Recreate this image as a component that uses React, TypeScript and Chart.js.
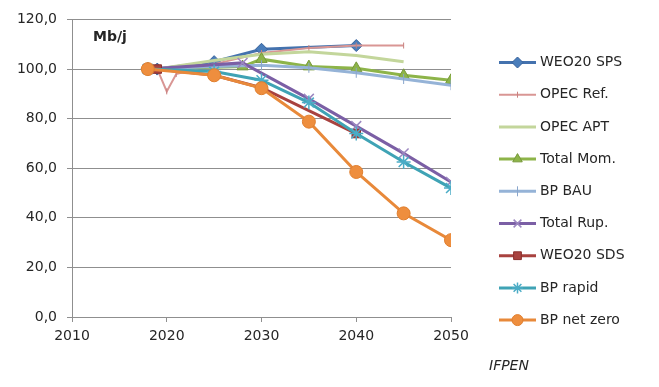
import React, { useEffect, useRef } from 'react';
import { Chart, registerables } from 'chart.js';
import { drawPoint } from 'chart.js/helpers';

Chart.register(...registerables);

const xTickValues = [2010, 2020, 2030, 2040, 2050];
const yTickValues = [0, 20, 40, 60, 80, 100, 120];

const seriesNames = [
  'WEO20 SPS', 'OPEC Ref.', 'OPEC APT', 'Total Mom.', 'BP BAU',
  'Total Rup.', 'WEO20 SDS', 'BP rapid', 'BP net zero',
];

const weoSpsYears = [2019, 2025, 2030, 2040];
const weoSpsValues = [100, 103, 108, 109.5];

const opecRefYears = [2019, 2020, 2021, 2025, 2030, 2035, 2040, 2045];
const opecRefValues = [100, 91, 98, 102, 106.5, 108.5, 109.5, 109.5];

const opecAptYears = [2019, 2025, 2030, 2035, 2040, 2045];
const opecAptValues = [100, 103.5, 106, 107, 105.5, 103];

const totalMomYears = [2018, 2028, 2030, 2035, 2040, 2045, 2050];
const totalMomValues = [100, 101, 104, 101, 100.3, 97.5, 95.5];

const bpBauYears = [2018, 2025, 2030, 2035, 2040, 2045, 2050];
const bpBauValues = [100, 101, 101.5, 100.5, 98.5, 96, 93.5];

const totalRupYears = [2018, 2028, 2035, 2040, 2045, 2050];
const totalRupValues = [100, 102.5, 88, 77, 66, 54.5];

const weoSdsYears = [2019, 2025, 2030, 2040];
const weoSdsValues = [100, 97.5, 92.5, 74];

const bpRapidYears = [2018, 2025, 2030, 2035, 2040, 2045, 2050];
const bpRapidValues = [100, 99, 95.5, 86.5, 74, 62.5, 52];

const bpNetZeroYears = [2018, 2025, 2030, 2035, 2040, 2045, 2050];
const bpNetZeroValues = [100, 97.5, 92.3, 78.8, 58.5, 41.8, 31];

const seriesYears = [weoSpsYears, opecRefYears, opecAptYears, totalMomYears, bpBauYears, totalRupYears, weoSdsYears, bpRapidYears, bpNetZeroYears];
const seriesValues = [weoSpsValues, opecRefValues, opecAptValues, totalMomValues, bpBauValues, totalRupValues, weoSdsValues, bpRapidValues, bpNetZeroValues];

const styles = [
  { line: '#4472AE', point: '#4A7EBB', pointBorder: '#35609A', style: 'rectRot', radius: 6, width: 3, pbw: 1, rot: 0 },
  { line: '#D99694', point: '#C0504D', pointBorder: '#C9817F', style: 'line', radius: 3, width: 2, pbw: 1, rot: 90 },
  { line: '#C3D69B', point: '#C3D69B', pointBorder: '#C3D69B', style: 'circle', radius: 0, width: 3, pbw: 0, rot: 0 },
  { line: '#8DB449', point: '#8DB449', pointBorder: '#77993A', style: 'triangle', radius: 6.5, width: 3, pbw: 1, rot: 0 },
  { line: '#95B3D7', point: '#8AA6CC', pointBorder: '#8AA6CC', style: 'line', radius: 5, width: 3, pbw: 1, rot: 90 },
  { line: '#7B5FA5', point: '#9C87C0', pointBorder: '#9C87C0', style: 'crossRot', radius: 7, width: 3, pbw: 1.5, rot: 0 },
  { line: '#A8423F', point: '#A8423F', pointBorder: '#8B2F2C', style: 'rect', radius: 6, width: 3, pbw: 1, rot: 0 },
  { line: '#3FA3B5', point: '#4BACC6', pointBorder: '#4BACC6', style: 'star', radius: 7, width: 3, pbw: 1.5, rot: 0 },
  { line: '#E8893A', point: '#EE8E3E', pointBorder: '#E07F2F', style: 'circle', radius: 6.5, width: 3, pbw: 1, rot: 0 },
];

const FONT = 'DejaVu Sans';
const gridColor = '#8f8f8f';
const textColor = '#262626';

const overlayPlugin = {
  id: 'overlay',
  afterDraw(chart: any) {
    const ctx = chart.ctx;
    const area = chart.chartArea;
    ctx.save();
    ctx.fillStyle = textColor;
    ctx.textBaseline = 'middle';
    ctx.textAlign = 'left';
    ctx.font = `bold 14px "${FONT}"`;
    ctx.fillText('Mb/j', area.left + 21, 37);

    const lx0 = area.right + 48;
    const lx1 = area.right + 85;
    const ly0 = 62.5;
    const step = 32.2;
    chart.data.datasets.forEach((ds: any, i: number) => {
      const y = ly0 + i * step;
      ctx.strokeStyle = ds.borderColor;
      ctx.lineWidth = ds.borderWidth;
      ctx.beginPath();
      ctx.moveTo(lx0, y);
      ctx.lineTo(lx1, y);
      ctx.stroke();
      if (ds.pointRadius > 0) {
        ctx.fillStyle = ds.pointBackgroundColor;
        ctx.strokeStyle = ds.pointBorderColor;
        ctx.lineWidth = ds.pointBorderWidth;
        drawPoint(ctx, {
          pointStyle: ds.pointStyle,
          rotation: ds.pointRotation || 0,
          radius: Math.min(ds.pointRadius, 5.5),
          borderWidth: ds.pointBorderWidth,
        }, (lx0 + lx1) / 2, y);
      }
      ctx.fillStyle = textColor;
      ctx.font = `14px "${FONT}"`;
      ctx.fillText(ds.label, lx1 + 4, y);
    });
    ctx.font = `italic 14px "${FONT}"`;
    ctx.fillText('IFPEN', area.right + 38, 366.5);
    ctx.restore();
  },
};

export default function App() {
  const ref = useRef<HTMLCanvasElement | null>(null);
  useEffect(() => {
    document.body.style.margin = '0';
    const canvas = ref.current;
    if (!canvas) return;
    const datasets = seriesNames.map((name, i) => {
      const s = styles[i];
      return {
        label: name,
        data: seriesYears[i].map((x, j) => ({ x, y: seriesValues[i][j] })),
        borderColor: s.line,
        backgroundColor: s.point,
        borderWidth: s.width,
        pointStyle: s.style,
        pointRadius: s.radius,
        pointRotation: s.rot,
        pointBackgroundColor: s.point,
        pointBorderColor: s.pointBorder,
        pointBorderWidth: s.pbw,
        tension: 0,
        fill: false,
        order: seriesNames.length - i,
      };
    });
    const chart = new Chart(canvas, {
      type: 'line',
      data: { datasets } as any,
      options: {
        responsive: false,
        animation: false,
        layout: { padding: { top: 19.5, right: 208, left: 0, bottom: 0 } },
        plugins: { legend: { display: false }, tooltip: { enabled: false } },
        scales: {
          x: {
            type: 'linear',
            min: 2010,
            max: 2050,
            afterBuildTicks: (s: any) => { s.ticks = xTickValues.map((v) => ({ value: v })); },
            afterFit: (s: any) => { s.height = 70; },
            grid: { drawOnChartArea: false, drawTicks: true, tickLength: 5, color: gridColor },
            border: { display: true, color: gridColor },
            ticks: {
              autoSkip: false, maxRotation: 0, padding: 6, color: textColor,
              font: { family: FONT, size: 14 },
              callback: (v: any) => String(v),
            },
          },
          y: {
            type: 'linear',
            min: 0,
            max: 120,
            afterBuildTicks: (s: any) => { s.ticks = yTickValues.map((v) => ({ value: v })); },
            afterFit: (s: any) => { s.width = 72; },
            grid: { drawOnChartArea: true, drawTicks: true, tickLength: 5, color: gridColor },
            border: { display: true, color: gridColor },
            ticks: {
              padding: 10, color: textColor,
              font: { family: FONT, size: 14 },
              callback: (v: any) => Number(v).toFixed(1).replace('.', ','),
            },
          },
        },
      },
      plugins: [overlayPlugin],
    });
    return () => chart.destroy();
  }, []);
  return (
    <div style={{ width: 659, height: 387, background: '#fff' }}>
      <canvas ref={ref} width={659} height={387} style={{ display: 'block' }} />
    </div>
  );
}
